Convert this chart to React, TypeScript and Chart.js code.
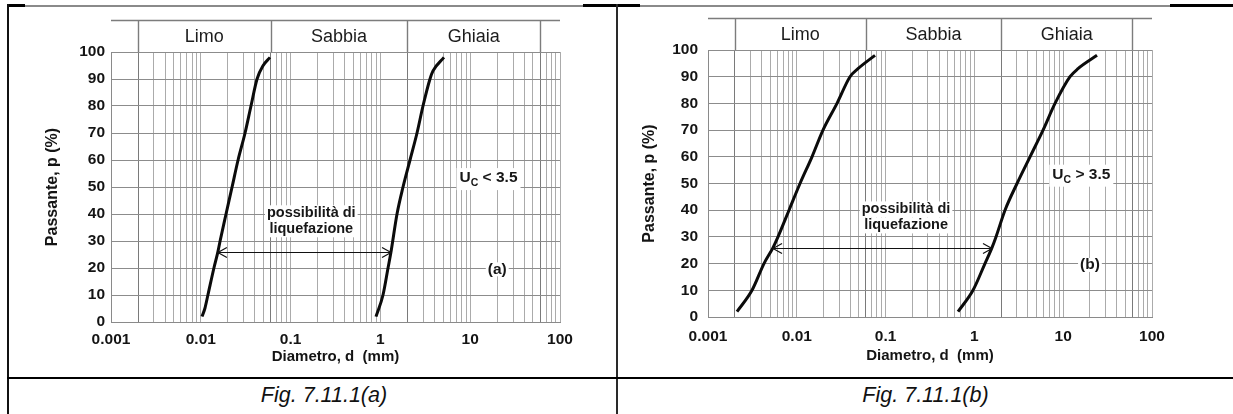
import React, { useEffect, useRef } from 'react';
import { Chart, registerables } from 'chart.js';

Chart.register(...registerables);

const FONT = '"Liberation Sans", Arial, Helvetica, sans-serif';

// ---- axes ----
const X_MIN = 0.001;
const X_MAX = 100;
const X_TICK_VALUES = [0.001, 0.01, 0.1, 1, 10, 100];
const X_TICK_LABELS = ['0.001', '0.01', '0.1', '1', '10', '100'];
const Y_MIN = 0;
const Y_MAX = 100;
const Y_STEP = 10;

// ---- soil fractions (header band) ----
const FRACTION_NAMES = ['Limo', 'Sabbia', 'Ghiaia'];
const FRACTION_LIMITS = [0.002, 0.06, 2, 60];

// ---- Fig. (a): Uc < 3.5 ----
const A_FINE_D = [0.0103, 0.0111, 0.012, 0.014, 0.0155, 0.0164, 0.0191, 0.0223, 0.026, 0.0311, 0.0362, 0.0423, 0.0495, 0.059];
const A_FINE_P = [2, 5, 10, 20, 26, 30, 40, 50, 60, 70, 80, 90, 95, 98];
const A_COARSE_D = [0.893, 1.069, 1.216, 1.313, 1.531, 1.786, 2.137, 2.557, 2.98, 3.565, 3.852, 5.1];
const A_COARSE_P = [2, 10, 20, 26, 40, 50, 60, 70, 80, 90, 93, 98];
const A_ARROW_D = [0.0155, 1.313];
const A_ARROW_P = 26;

// ---- Fig. (b): Uc > 3.5 ----
const B_FINE_D = [0.00212, 0.00313, 0.00427, 0.0054, 0.00614, 0.00817, 0.01087, 0.01483, 0.01972, 0.02837, 0.03975, 0.04889, 0.076];
const B_FINE_P = [2, 10, 20, 26, 30, 40, 50, 60, 70, 80, 90, 93, 98];
const B_COARSE_D = [0.654, 0.964, 1.315, 1.578, 1.75, 2.211, 3.02, 4.23, 5.93, 8.09, 11.94, 14.69, 24.03];
const B_COARSE_P = [2, 10, 20, 26, 30, 40, 50, 60, 70, 80, 90, 93, 98];
const B_ARROW_D = [0.0054, 1.578];
const B_ARROW_P = 26;

const LIQ_TEXT = ['possibilità di', 'liquefazione'];

type Spec = {
  left: number; top: number; width: number; height: number;
  area: { left: number; top: number; right: number; bottom: number };
  headerTop: number;
  yTitleCenter: number; yTickPad: number; xLabelCenter: number; xTitleCenter: number;
  fineD: number[]; fineP: number[]; coarseD: number[]; coarseP: number[];
  arrowD: number[]; arrowP: number;
  ucSign: string; tag: string;
};

const PANEL_A: Spec = {
  left: 0, top: 0, width: 612, height: 376,
  area: { left: 111, top: 52, right: 560, bottom: 322 },
  headerTop: 20,
  yTitleCenter: 53, yTickPad: 6, xLabelCenter: 340, xTitleCenter: 357,
  fineD: A_FINE_D, fineP: A_FINE_P, coarseD: A_COARSE_D, coarseP: A_COARSE_P,
  arrowD: A_ARROW_D, arrowP: A_ARROW_P, ucSign: '<', tag: '(a)',
};

const PANEL_B: Spec = {
  left: 617, top: 0, width: 616, height: 376,
  area: { left: 91, top: 50, right: 535, bottom: 317 },
  headerTop: 18,
  yTitleCenter: 33, yTickPad: 10, xLabelCenter: 337, xTitleCenter: 356,
  fineD: B_FINE_D, fineP: B_FINE_P, coarseD: B_COARSE_D, coarseP: B_COARSE_P,
  arrowD: B_ARROW_D, arrowP: B_ARROW_P, ucSign: '>', tag: '(b)',
};

const TICK_SIZE = 15.5;
const YTITLE_SIZE = 16;
const XTITLE_SIZE = 15;

const isClose = (a: number, b: number) => Math.abs(a - b) / Math.abs(b) < 1e-6;

function whiteBoxText(ctx: CanvasRenderingContext2D, text: string, cx: number, cy: number, font: string, boxH: number) {
  ctx.font = font;
  const w = ctx.measureText(text).width;
  ctx.fillStyle = '#ffffff';
  ctx.fillRect(cx - w / 2 - 2, cy - boxH / 2, w + 4, boxH);
  ctx.fillStyle = '#161616';
  ctx.textAlign = 'center';
  ctx.textBaseline = 'middle';
  ctx.fillText(text, cx, cy);
}

const decor = {
  id: 'geoDecor',
  afterDatasetsDraw(chart: any, _args: any, opts: any) {
    const ctx: CanvasRenderingContext2D = chart.ctx;
    const xs = chart.scales.x;
    const ys = chart.scales.y;
    const area = chart.chartArea;
    ctx.save();

    // header band with soil fractions
    const hTop = opts.headerTop;
    ctx.strokeStyle = '#7c7c7c';
    ctx.lineWidth = 1.4;
    ctx.beginPath();
    ctx.moveTo(area.left, hTop + 0.5);
    ctx.lineTo(area.right, hTop + 0.5);
    FRACTION_LIMITS.forEach((v) => {
      const px = Math.round(xs.getPixelForValue(v)) + 0.5;
      ctx.moveTo(px, hTop);
      ctx.lineTo(px, area.top);
    });
    ctx.stroke();
    ctx.fillStyle = '#1c1c1c';
    ctx.font = `18px ${FONT}`;
    ctx.textAlign = 'center';
    ctx.textBaseline = 'middle';
    FRACTION_NAMES.forEach((n, i) => {
      const x0 = xs.getPixelForValue(FRACTION_LIMITS[i]);
      const x1 = xs.getPixelForValue(FRACTION_LIMITS[i + 1]);
      ctx.fillText(n, (x0 + x1) / 2, (hTop + area.top) / 2 + 1);
    });

    // double arrow
    const ay = Math.round(ys.getPixelForValue(opts.arrowP)) + 0.5;
    const ax0 = xs.getPixelForValue(opts.arrowD[0]);
    const ax1 = xs.getPixelForValue(opts.arrowD[1]);
    ctx.strokeStyle = '#111111';
    ctx.lineWidth = 1.2;
    ctx.beginPath();
    ctx.moveTo(ax0, ay);
    ctx.lineTo(ax1, ay);
    ctx.moveTo(ax0 + 9, ay - 5);
    ctx.lineTo(ax0, ay);
    ctx.lineTo(ax0 + 9, ay + 5);
    ctx.moveTo(ax1 - 9, ay - 5);
    ctx.lineTo(ax1, ay);
    ctx.lineTo(ax1 - 9, ay + 5);
    ctx.stroke();

    // liquefaction text
    const lx = xs.getPixelForValue(opts.liqX);
    const ly = ys.getPixelForValue(opts.liqY);
    const f = `bold 14.5px ${FONT}`;
    whiteBoxText(ctx, LIQ_TEXT[0], lx, ly - 8, f, 16);
    whiteBoxText(ctx, LIQ_TEXT[1], lx, ly + 8, f, 16);

    // Uc label
    const ux = xs.getPixelForValue(opts.ucX);
    const uy = ys.getPixelForValue(opts.ucY);
    const big = `bold 15.5px ${FONT}`;
    const small = `bold 10.5px ${FONT}`;
    const rest = ` ${opts.ucSign} 3.5`;
    ctx.font = big;
    const wU = ctx.measureText('U').width;
    const wR = ctx.measureText(rest).width;
    ctx.font = small;
    const wC = ctx.measureText('C').width;
    const tw = wU + wC + wR;
    ctx.fillStyle = '#ffffff';
    ctx.fillRect(ux - tw / 2 - 3, uy - 10, tw + 6, 22);
    ctx.fillStyle = '#161616';
    ctx.textAlign = 'left';
    ctx.textBaseline = 'middle';
    ctx.font = big;
    ctx.fillText('U', ux - tw / 2, uy);
    ctx.font = small;
    ctx.fillText('C', ux - tw / 2 + wU, uy + 5);
    ctx.font = big;
    ctx.fillText(rest, ux - tw / 2 + wU + wC, uy);

    // panel tag
    const tx = xs.getPixelForValue(opts.tagX);
    const ty = ys.getPixelForValue(opts.tagY);
    whiteBoxText(ctx, opts.tag, tx, ty, `bold 15.5px ${FONT}`, 14);

    ctx.restore();
  },
};

function buildConfig(spec: Spec): any {
  const a = spec.area;
  const tickFont = { family: FONT, size: TICK_SIZE, weight: 'bold' as const };
  const tickLH = TICK_SIZE * 1.2;
  const yTitleFont = { family: FONT, size: YTITLE_SIZE, weight: 'bold' as const };
  const xTitleFont = { family: FONT, size: XTITLE_SIZE, weight: 'bold' as const };
  const curve = (d: number[], p: number[]) => ({
    data: d.map((v, i) => ({ x: v, y: p[i] })),
    showLine: true,
    borderColor: '#0b0b0b',
    borderWidth: 3,
    pointRadius: 0,
    cubicInterpolationMode: 'monotone',
    fill: false,
  });
  return {
    type: 'scatter',
    data: { datasets: [curve(spec.fineD, spec.fineP), curve(spec.coarseD, spec.coarseP)] },
    options: {
      responsive: false,
      animation: false,
      events: [],
      layout: { padding: { left: 0, top: a.top, right: spec.width - a.right, bottom: 0 } },
      plugins: {
        legend: { display: false },
        tooltip: { enabled: false },
        title: { display: false },
        geoDecor: {
          headerTop: spec.headerTop,
          arrowD: spec.arrowD, arrowP: spec.arrowP,
          liqX: 0.17, liqY: 37.3,
          ucX: 16, ucY: 53.3, ucSign: spec.ucSign,
          tagX: 20, tagY: 19.5, tag: spec.tag,
        },
      },
      scales: {
        x: {
          type: 'logarithmic',
          min: X_MIN,
          max: X_MAX,
          afterBuildTicks: (s: any) => {
            const t: any[] = [];
            X_TICK_VALUES.forEach((dec) => {
              for (let k = 1; k <= 9; k++) {
                const v = k * dec;
                if (v <= X_MAX * 1.000001) t.push({ value: v });
              }
            });
            s.ticks = t;
          },
          afterFit: (s: any) => { s.height = spec.height - a.bottom; },
          grid: {
            drawTicks: false,
            lineWidth: 1,
            color: (c: any) => {
              const v = c.tick ? c.tick.value : 0;
              return FRACTION_LIMITS.some((f) => isClose(v, f)) ? '#7a7a7a' : '#ababab';
            },
          },
          border: { display: true, color: '#8a8a8a', width: 1 },
          ticks: {
            autoSkip: false,
            maxRotation: 0,
            minRotation: 0,
            padding: spec.xLabelCenter - a.bottom - tickLH / 2,
            color: '#141414',
            font: tickFont,
            callback: (val: number) => {
              const i = X_TICK_VALUES.findIndex((v) => isClose(Number(val), v));
              return i >= 0 ? X_TICK_LABELS[i] : '';
            },
          },
          title: {
            display: true,
            text: 'Diametro, d  (mm)',
            color: '#141414',
            font: xTitleFont,
            padding: { top: 0, bottom: spec.height - spec.xTitleCenter - (XTITLE_SIZE * 1.2) / 2 },
          },
        },
        y: {
          type: 'linear',
          min: Y_MIN,
          max: Y_MAX,
          afterFit: (s: any) => { s.width = a.left; },
          grid: { drawTicks: false, lineWidth: 1, color: '#8c8c8c' },
          border: { display: true, color: '#8a8a8a', width: 1 },
          ticks: {
            stepSize: Y_STEP,
            padding: spec.yTickPad,
            color: '#141414',
            font: tickFont,
          },
          title: {
            display: true,
            text: 'Passante, p (%)',
            color: '#141414',
            font: yTitleFont,
            padding: { top: spec.yTitleCenter - (YTITLE_SIZE * 1.2) / 2, bottom: 0 },
          },
        },
      },
    },
    plugins: [decor],
  };
}

function Panel({ spec }: { spec: Spec }) {
  const ref = useRef<HTMLCanvasElement | null>(null);
  useEffect(() => {
    if (!ref.current) return;
    const chart = new Chart(ref.current, buildConfig(spec));
    return () => chart.destroy();
  }, [spec]);
  return (
    <canvas
      ref={ref}
      width={spec.width}
      height={spec.height}
      style={{ position: 'absolute', left: spec.left, top: spec.top, width: spec.width, height: spec.height }}
    />
  );
}

const line = (left: number, top: number, width: number, height: number, bg: string) => (
  <div style={{ position: 'absolute', left, top, width, height, background: bg, zIndex: 2 }} />
);

export default function App() {
  return (
    <div style={{ position: 'fixed', left: 0, top: 0, width: 1233, height: 414, background: '#fff', overflow: 'hidden' }}>
      <Panel spec={PANEL_A} />
      <Panel spec={PANEL_B} />
      {line(8, 5, 1225, 2, '#8a8a8a')}
      {line(8, 4, 17, 3, '#000')}
      {line(583, 4, 57, 3, '#000')}
      {line(1170, 4, 63, 3, '#000')}
      {line(7, 4, 2, 410, '#111')}
      {line(616, 4, 2, 410, '#2a2a2a')}
      {line(7, 377, 1226, 2, '#000')}
      <div style={{ position: 'absolute', left: 30, top: 379, width: 588, height: 32, display: 'flex', alignItems: 'center', justifyContent: 'center', font: `italic 21.5px ${FONT}`, color: '#111' }}>
        Fig. 7.11.1(a)
      </div>
      <div style={{ position: 'absolute', left: 618, top: 379, width: 615, height: 32, display: 'flex', alignItems: 'center', justifyContent: 'center', font: `italic 21.5px ${FONT}`, color: '#111' }}>
        Fig. 7.11.1(b)
      </div>
    </div>
  );
}
